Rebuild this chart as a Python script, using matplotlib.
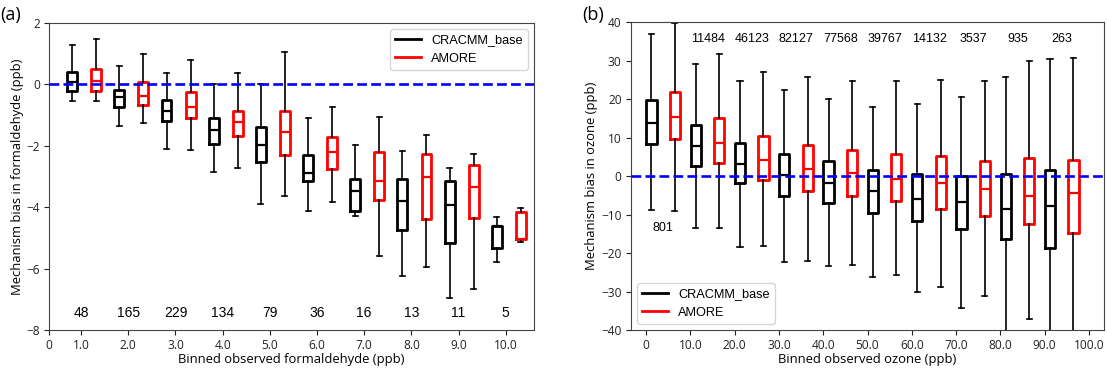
import matplotlib
matplotlib.use("Agg")
import matplotlib.pyplot as plt
from matplotlib.lines import Line2D
import numpy as np

# ---------------- data: formaldehyde (panel a) ----------------
hcho_bins = [1, 2, 3, 4, 5, 6, 7, 8, 9, 10]
hcho_ticklabels = ["0", "1.0", "2.0", "3.0", "4.0", "5.0", "6.0", "7.0", "8.0", "9.0", "10.0"]
hcho_counts = [48, 165, 229, 134, 79, 36, 16, 13, 11, 5]

hcho_base_whislo = [-0.55, -1.37, -2.11, -2.85, -3.89, -4.11, -4.28, -6.23, -6.97, -5.78]
hcho_base_q1     = [-0.23, -0.75, -1.18, -1.93, -2.54, -3.16, -4.11, -4.74, -5.15, -5.33]
hcho_base_med    = [0.07, -0.42, -0.88, -1.48, -1.97, -2.87, -3.47, -3.79, -3.92, -4.61]
hcho_base_q3     = [0.40, -0.17, -0.52, -1.10, -1.40, -2.29, -3.07, -3.07, -3.14, -4.61]
hcho_base_whishi = [1.27, 0.61, 0.37, 0.00, 0.00, -1.10, -1.99, -2.18, -2.73, -4.32]

hcho_amore_whislo = [-0.55, -1.26, -2.15, -2.73, -3.63, -3.83, -5.59, -5.95, -6.67, -5.13]
hcho_amore_q1     = [-0.21, -0.67, -1.08, -1.67, -2.30, -2.76, -3.78, -4.39, -4.35, -5.04]
hcho_amore_med    = [0.10, -0.39, -0.74, -1.24, -1.55, -2.21, -3.14, -3.01, -3.34, -5.04]
hcho_amore_q3     = [0.51, 0.08, -0.26, -0.86, -0.86, -1.71, -2.21, -2.28, -2.64, -4.15]
hcho_amore_whishi = [1.48, 0.99, 0.80, 0.37, 1.04, -0.73, -1.05, -1.66, -2.27, -4.02]

# ---------------- data: ozone (panel b) ----------------
o3_bins = [0, 1, 2, 3, 4, 5, 6, 7, 8, 9]
o3_ticklabels = ["0", "10.0", "20.0", "30.0", "40.0", "50.0", "60.0", "70.0", "80.0", "90.0", "100.0"]
o3_counts = [801, 11484, 46123, 82127, 77568, 39767, 14132, 3537, 935, 263]

o3_base_whislo = [-8.8, -13.6, -18.5, -22.4, -23.3, -26.3, -30.2, -34.3, -45.0, -45.0]
o3_base_q1     = [8.3, 2.65, -1.9, -5.3, -6.9, -9.5, -11.8, -13.8, -16.4, -18.7]
o3_base_med    = [13.7, 7.7, 3.2, 0.2, -1.7, -4.0, -5.9, -6.8, -8.5, -7.7]
o3_base_q3     = [19.8, 13.2, 8.7, 5.8, 3.8, 1.5, 0.6, -0.1, 0.6, 1.5]
o3_base_whishi = [36.9, 29.1, 24.7, 22.4, 20.0, 17.9, 18.6, 20.6, 25.7, 30.3]

o3_amore_whislo = [-9.0, -13.6, -18.1, -22.0, -23.1, -25.7, -28.9, -31.1, -37.2, -45.0]
o3_amore_q1     = [9.7, 3.5, -1.1, -4.0, -5.1, -6.6, -8.6, -10.3, -12.5, -14.7]
o3_amore_med    = [15.3, 8.7, 4.1, 1.8, 0.9, -0.7, -1.8, -3.3, -5.3, -4.3]
o3_amore_q3     = [21.7, 15.0, 10.3, 8.0, 6.7, 5.8, 5.3, 3.9, 4.8, 4.1]
o3_amore_whishi = [39.7, 31.7, 27.1, 25.7, 24.6, 24.6, 25.0, 24.8, 29.9, 30.6]

series_names = ["CRACMM_base", "AMORE"]
series_colors = ["black", "red"]


def make_stats(lo, q1, med, q3, hi):
    return [dict(whislo=a, q1=b, med=c, q3=d, whishi=e, fliers=[])
            for a, b, c, d, e in zip(lo, q1, med, q3, hi)]


def draw(ax, stats, positions, color, width):
    ax.bxp(stats, positions=positions, widths=width, showfliers=False,
           boxprops=dict(color=color, linewidth=2.0),
           medianprops=dict(color=color, linewidth=1.6),
           whiskerprops=dict(color='black', linewidth=1.2),
           capprops=dict(color='black', linewidth=1.2),
           manage_ticks=False)


plt.rcParams['font.family'] = ['Open Sans', 'DejaVu Sans']
fig = plt.figure(figsize=(11.07, 3.71), dpi=100)

spine_col = '#444444'
count_font = ['Liberation Sans', 'DejaVu Sans']
legend_prop = {'family': 'Liberation Sans', 'size': 9.2}

# ---------- panel a ----------
ax1 = fig.add_axes([0.0443, 0.1105, 0.4381, 0.8275])
b = np.array(hcho_bins, dtype=float)
draw(ax1, make_stats(hcho_base_whislo, hcho_base_q1, hcho_base_med, hcho_base_q3, hcho_base_whishi),
     b - 0.19, series_colors[0], 0.21)
draw(ax1, make_stats(hcho_amore_whislo, hcho_amore_q1, hcho_amore_med, hcho_amore_q3, hcho_amore_whishi),
     b + 0.32, series_colors[1], 0.21)
ax1.axhline(0, color='#0000ff', linestyle='--', linewidth=1.9, zorder=5)
ax1.set_xlim(0.32, 10.6)
ax1.set_ylim(-8, 2)
ax1.set_xticks([0.32] + list(b))
ax1.set_xticklabels(hcho_ticklabels)
ax1.set_yticks([-8, -6, -4, -2, 0, 2])
ax1.set_yticklabels(["\u22128", "\u22126", "\u22124", "\u22122", "0", "2"])
for x, c in zip(b, hcho_counts):
    ax1.text(x, -7.45, str(c), ha='center', va='center', fontsize=10,
             family=count_font)
ax1.set_xlabel("Binned observed formaldehyde (ppb)", fontsize=9.4, labelpad=1)
ax1.set_ylabel("Mechanism bias in formaldehyde (ppb)", fontsize=9.4, labelpad=2)
handles = [Line2D([], [], color=c, linewidth=2) for c in series_colors]
ax1.legend(handles, series_names, loc='upper right', prop=legend_prop)

# ---------- panel b ----------
ax2 = fig.add_axes([0.5697, 0.1105, 0.4276, 0.8302])
o = np.array(o3_bins, dtype=float)
draw(ax2, make_stats(o3_base_whislo, o3_base_q1, o3_base_med, o3_base_q3, o3_base_whishi),
     o + 0.12, series_colors[0], 0.23)
draw(ax2, make_stats(o3_amore_whislo, o3_amore_q1, o3_amore_med, o3_amore_q3, o3_amore_whishi),
     o + 0.65, series_colors[1], 0.23)
ax2.axhline(0, color='#0000ff', linestyle='--', linewidth=1.9, zorder=5)
ax2.set_xlim(-0.35, 10.34)
ax2.set_ylim(-40, 40)
ax2.set_xticks(np.arange(len(o3_ticklabels)))
ax2.set_xticklabels(o3_ticklabels)
ax2.set_yticks(np.arange(-40, 41, 10))
ax2.set_yticklabels([str(v).replace('-', '\u2212') for v in range(-40, 41, 10)])
for i, (x, c) in enumerate(zip(o, o3_counts)):
    y = -13.4 if i == 0 else 35.6
    ax2.text(x + 0.39, y, str(c), ha='center', va='center', fontsize=9,
             family=count_font)
ax2.set_xlabel("Binned observed ozone (ppb)", fontsize=9.4, labelpad=1)
ax2.set_ylabel("Mechanism bias in ozone (ppb)", fontsize=9.4, labelpad=2)
ax2.legend(handles, series_names, loc='lower left', prop=legend_prop)

for ax in (ax1, ax2):
    for s in ax.spines.values():
        s.set_color(spine_col)
    ax.tick_params(labelsize=8.6, colors='#222222', pad=3)

fig.text(0.0, 0.985, "(a)", fontsize=13, va='top', ha='left')
fig.text(0.526, 0.985, "(b)", fontsize=13, va='top', ha='left')

fig.savefig("out.png", dpi=100)
